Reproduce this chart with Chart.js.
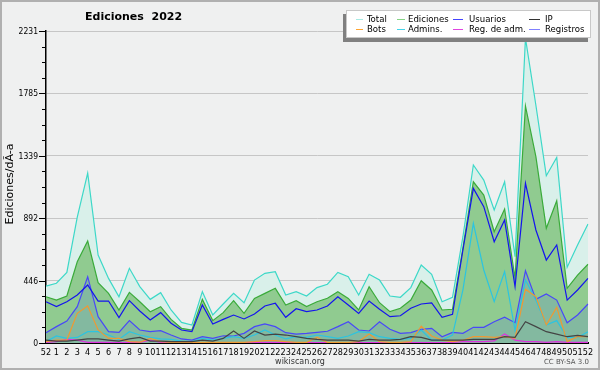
<!DOCTYPE html>
<html>
<head>
<meta charset="utf-8">
<script src="https://cdn.jsdelivr.net/npm/chart.js@4/dist/chart.umd.min.js"></script>
<style>
html, body { margin: 0; padding: 0; background: #eff0f0; }
canvas { display: block; }
</style>
</head>
<body>
<canvas id="chart" width="600" height="370"></canvas>
<script>
const weeks = ['52', '1', '2', '3', '4', '5', '6', '7', '8', '9', '10', '11', '12', '13', '14', '15', '16', '17', '18', '19', '20',
    '21', '22', '23', '24', '25', '26', '27', '28', '29', '30', '31', '32', '33', '34', '35', '36', '37', '38', '39', '40',
    '41', '42', '43', '44', '45', '46', '47', '48', '49', '50', '51', '52'];

const yMax = 2231;
const yLabels = ['0', '446', '892', '1339', '1785', '2231'];

const total = [407, 427, 505, 900, 1215, 629, 462, 331, 534, 403, 312, 360, 236,
    147, 129, 367, 200, 279, 355, 288, 450, 498, 510, 343, 367,
    336, 396, 420, 505, 474, 343, 491, 450, 336, 327, 396, 558, 491, 295, 327,
    760, 1273, 1165, 951, 1153, 617, 2180, 1700, 1196, 1327, 541, 701, 851];
const ediciones = [331, 307, 336, 581, 729, 431, 355, 236, 362, 295, 224, 260, 169,
    105, 93, 312, 160, 217, 303, 212, 319, 355, 391, 272, 303,
    260, 295, 320, 367, 319, 236, 403, 288, 224, 248, 307, 445, 379, 236, 241,
    680, 1153, 1058, 796, 958, 462, 1695, 1332, 820, 1017, 391, 486, 563];
const usuarios = [295, 260, 295, 343, 415, 300, 300, 181, 303, 229, 164, 217, 141,
    93, 81, 272, 136, 169, 200, 172, 207, 265, 284, 184, 245,
    224, 236, 265, 331, 272, 212, 300, 241, 188, 195, 248, 279, 286, 184, 205,
    665, 1106, 975, 724, 879, 403, 1142, 808, 593, 701, 307, 379, 462];
const ip = [21, 14, 14, 21, 29, 29, 21, 14, 29, 40, 14, 14, 10,
    10, 10, 21, 14, 33, 86, 33, 86, 57, 64, 57, 45,
    33, 26, 21, 21, 21, 14, 26, 21, 21, 26, 45, 40, 21, 21, 21,
    21, 26, 26, 26, 45, 40, 152, 117, 81, 64, 45, 55, 45];
const bots = [10, 21, 21, 212, 265, 93, 33, 33, 10, 7, 33, 10, 5,
    3, 3, 5, 5, 5, 5, 5, 10, 17, 17, 10, 5,
    5, 40, 5, 5, 5, 10, 64, 10, 5, 5, 10, 121, 50, 21, 10,
    20, 45, 45, 40, 45, 33, 384, 331, 129, 255, 10, 45, 45];
const admins = [10, 50, 33, 40, 81, 81, 57, 26, 81, 57, 40, 29, 26,
    14, 10, 33, 21, 33, 45, 33, 57, 93, 57, 29, 45,
    40, 57, 45, 33, 50, 81, 74, 45, 33, 26, 33, 93, 21, 21, 57,
    380, 856, 522, 295, 510, 90, 450, 307, 129, 160, 40, 40, 81];
const regAdm = [5, 10, 26, 20, 5, 5, 5, 3, 5, 5, 20, 5, 3,
    3, 3, 3, 3, 3, 3, 3, 5, 5, 5, 5, 3,
    3, 3, 3, 3, 3, 3, 3, 3, 3, 3, 3, 3, 3, 3, 5,
    10, 10, 10, 15, 64, 21, 10, 10, 5, 10, 5, 5, 5];
const registros = [74, 117, 157, 260, 474, 188, 81, 76, 160, 93, 81, 88, 57,
    29, 21, 45, 33, 52, 50, 69, 117, 136, 117, 74, 64,
    69, 76, 84, 117, 152, 93, 86, 152, 98, 69, 74, 98, 105, 45, 76,
    69, 112, 112, 152, 184, 145, 517, 312, 350, 307, 145, 200, 279];

// label, data, line colour, legend colour, fill
const series = [
    ['Total', total, '#3dd8c8', '#a6ebe4', '#d9f0ea'],
    ['Ediciones', ediciones, '#3aab3a', '#86d486', '#90cb90'],
    ['Usuarios', usuarios, '#1414ee', '#4444ff', null],
    ['IP', ip, '#444444', '#333333', null],
    ['Bots', bots, '#ee9933', '#ffa531', null],
    ['Admins.', admins, '#2cc4e0', '#44d4ea', null],
    ['Reg. de adm.', regAdm, '#dd33dd', '#e044e0', null],
    ['Registros', registros, '#4848f8', '#8080ff', 'rgba(60, 90, 255, 0.15)']
];
// legend drawn in 4 columns x 2 rows
const legendRows = [['Total', 'Ediciones', 'Usuarios', 'IP'], ['Bots', 'Admins.', 'Reg. de adm.', 'Registros']];

const drawOrder = { 'Total': 10, 'Ediciones': 9, 'Registros': 8 };

const datasets = series.map(([label, data, color, legend, fill]) => ({
    label: label,
    data: data,
    borderColor: color,
    backgroundColor: fill || color,
    fill: fill ? 'origin' : false,
    borderWidth: 1.2,
    pointRadius: 0,
    tension: 0,
    order: drawOrder[label] || 1
}));

const extras = {
    id: 'extras',
    beforeDraw(chart) {
        const c = chart.ctx;
        c.save();
        c.fillStyle = '#eff0f0';
        c.fillRect(0, 0, chart.width, chart.height);
        c.restore();
    },
    afterDraw(chart) {
        const c = chart.ctx;
        const area = chart.chartArea;
        const y = chart.scales.y;
        c.save();

        // axis ticks and labels on the left
        c.strokeStyle = '#000';
        c.fillStyle = '#000';
        c.lineWidth = 1;
        c.font = '8.5px "DejaVu Sans Condensed", "DejaVu Sans"';
        c.textAlign = 'right';
        c.textBaseline = 'middle';
        for (let i = 0; i <= 20; i++) {
            const py = Math.round(y.getPixelForValue(i * yMax / 20)) + 0.5;
            const len = i % 4 === 0 ? 7 : 4;
            c.beginPath();
            c.moveTo(area.left - len, py);
            c.lineTo(area.left, py);
            c.stroke();
            if (i % 4 === 0) c.fillText(yLabels[i / 4], 38, py);
        }

        // title
        c.font = 'bold 11px "DejaVu Sans"';
        c.textAlign = 'left';
        c.fillText('Ediciones  2022', 85, 17);

        // y title
        c.save();
        c.translate(10, 184);
        c.rotate(-Math.PI / 2);
        c.textAlign = 'center';
        c.font = '11px "DejaVu Sans"';
        c.fillText('Ediciones/dÃ-a', 0, 0);
        c.restore();

        // footer
        c.textAlign = 'center';
        c.font = '8px "DejaVu Sans"';
        c.fillStyle = '#333';
        c.fillText('wikiscan.org', 300, 362);
        c.textAlign = 'right';
        c.font = '7px "DejaVu Sans"';
        c.fillStyle = '#555';
        c.fillText('CC BY-SA 3.0', 589, 362);

        // legend
        c.fillStyle = '#808080';
        c.fillRect(343, 14, 245, 28);
        c.fillStyle = '#ffffff';
        c.fillRect(346, 10, 245, 28);
        c.strokeStyle = '#c8c8c8';
        c.strokeRect(346.5, 10.5, 244, 27);
        const cols = [[356, 363, 367], [397, 405, 408], [453, 463, 469], [529, 540, 545]];
        const rowY = [19.5, 29.5];
        c.font = '9.5px "DejaVu Sans Condensed", "DejaVu Sans"';
        c.textAlign = 'left';
        legendRows.forEach((row, r) => {
            row.forEach((name, k) => {
                const s = series.find(d => d[0] === name);
                c.strokeStyle = s[3];
                c.lineWidth = 1;
                c.beginPath();
                c.moveTo(cols[k][0], rowY[r]);
                c.lineTo(cols[k][1], rowY[r]);
                c.stroke();
                c.fillStyle = '#000';
                c.fillText(name, cols[k][2], rowY[r] + 0.5);
            });
        });

        // frame
        c.strokeStyle = '#b0b0b0';
        c.lineWidth = 2;
        c.strokeRect(1, 1, chart.width - 2, chart.height - 2);
        c.restore();
    }
};

const ctx = document.getElementById('chart').getContext('2d');

const chart = new Chart(ctx, {
    type: 'line',
    data: { labels: weeks, datasets: datasets },
    plugins: [extras],
    options: {
        responsive: false,
        animation: false,
        layout: { padding: { top: 31, right: 12, left: 0, bottom: 0 } },
        plugins: {
            legend: { display: false },
            tooltip: { enabled: false },
            filler: { propagate: false }
        },
        scales: {
            x: {
                offset: false,
                grid: { display: false, drawTicks: false },
                border: { display: true, color: '#000', width: 2 },
                ticks: {
                    autoSkip: false,
                    maxRotation: 0,
                    padding: 4,
                    color: '#000',
                    font: { family: '"DejaVu Sans Condensed", "DejaVu Sans"', size: 9 }
                },
                afterFit: scale => { scale.height = 27; }
            },
            y: {
                min: 0,
                max: yMax,
                afterBuildTicks: scale => {
                    scale.ticks = Array.from({ length: 21 }, (_, i) => ({ value: i * yMax / 20 }));
                },
                grid: {
                    drawTicks: false,
                    lineWidth: 1,
                    color: c => (c.index % 4 === 0 && c.index > 0) ? '#c6c6c6' : 'rgba(0,0,0,0)'
                },
                border: { display: true, color: '#000', width: 1.5 },
                ticks: { display: false },
                afterFit: scale => { scale.width = 46; }
            }
        }
    }
});
</script>
</body>
</html>
